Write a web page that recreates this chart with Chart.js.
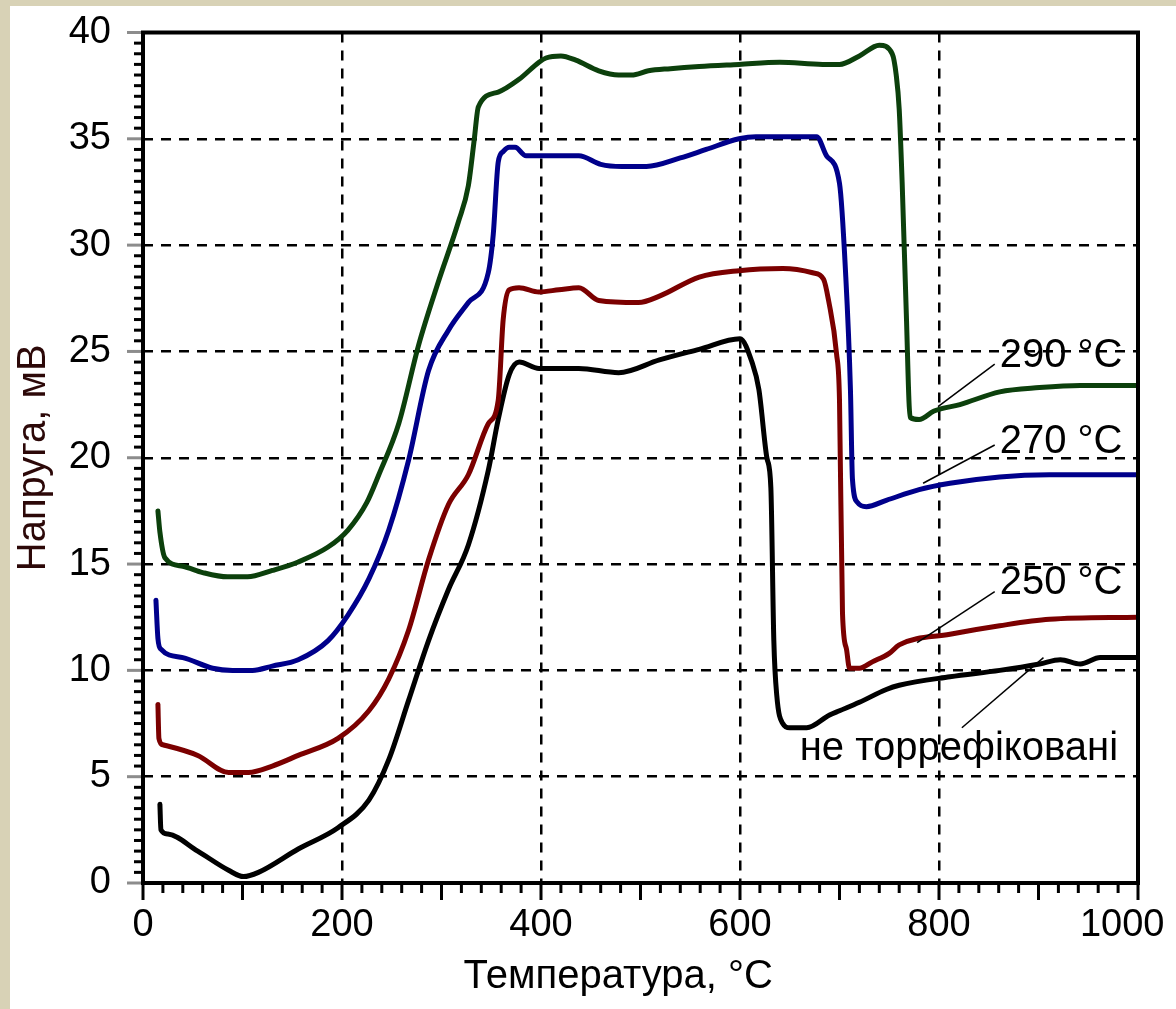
<!DOCTYPE html>
<html>
<head>
<meta charset="utf-8">
<script src="https://cdn.jsdelivr.net/npm/chart.js@4.4.1/dist/chart.umd.min.js"></script>
<style>
  html, body { margin: 0; padding: 0; width: 1176px; height: 1009px; overflow: hidden; background: #d8d2b6; }
  #wrap { position: absolute; left: 10px; top: 6px; width: 1166px; height: 1003px; background: #fff; }
</style>
</head>
<body>
<div id="wrap"><canvas id="chart" width="1166" height="1003"></canvas></div>
<script>
(() => {
  /* ========== Data ========== */
  // 290 °C
  const temp290 = [15, 17, 22, 40, 60, 85, 105, 130, 156, 186, 206, 225, 237, 257, 277, 297, 317, 327, 333, 337, 357, 378, 398, 405, 420, 435, 458, 478, 491, 508, 530, 559, 599, 640, 683, 700, 720, 740, 753, 757, 760, 763, 767, 771, 780, 795, 821, 861, 901, 942, 1000];
  const volt290 = [17.5, 16.5, 15.3, 14.9, 14.6, 14.4, 14.4, 14.7, 15.1, 15.8, 16.6, 17.9, 19.2, 21.6, 25.3, 28.3, 31.1, 32.8, 35.0, 36.5, 37.2, 37.8, 38.6, 38.8, 38.9, 38.7, 38.2, 38.0, 38.0, 38.2, 38.3, 38.4, 38.5, 38.6, 38.5, 38.5, 38.9, 39.4, 39.0, 38.0, 36.4, 32.9, 27.0, 21.9, 21.8, 22.2, 22.5, 23.1, 23.3, 23.4, 23.4];
  // 270 °C
  const temp270 = [13, 15, 18, 40, 70, 90, 110, 130, 156, 186, 206, 227, 247, 267, 287, 307, 327, 347, 352, 357, 362, 368, 374, 385, 410, 438, 460, 481, 506, 540, 566, 599, 616, 650, 677, 687, 700, 706, 711, 713, 718, 727, 747, 780, 811, 861, 911, 950, 1000];
  const volt270 = [13.3, 11.5, 11.0, 10.6, 10.1, 10.0, 10.0, 10.2, 10.5, 11.4, 12.6, 14.3, 16.6, 19.9, 24.1, 26.0, 27.3, 28.7, 30.5, 33.9, 34.4, 34.6, 34.6, 34.2, 34.2, 34.2, 33.8, 33.7, 33.7, 34.1, 34.5, 35.0, 35.1, 35.1, 35.1, 34.2, 32.9, 28.8, 23.2, 19.0, 17.9, 17.7, 18.0, 18.5, 18.8, 19.1, 19.2, 19.2, 19.2];
  // 250 °C
  const temp250 = [15, 16, 20, 55, 86, 106, 130, 156, 196, 227, 247, 267, 287, 307, 327, 347, 357, 362, 368, 378, 398, 418, 438, 458, 498, 519, 559, 599, 643, 673, 684, 689, 697, 700, 703, 707, 710, 720, 733, 750, 760, 811, 861, 911, 1000];
  const volt250 = [8.4, 6.8, 6.5, 6.0, 5.2, 5.2, 5.5, 6.0, 6.8, 8.1, 9.6, 11.9, 15.2, 17.8, 19.2, 21.6, 22.7, 26.5, 27.9, 28.0, 27.8, 27.9, 28.0, 27.4, 27.3, 27.6, 28.5, 28.8, 28.9, 28.7, 28.4, 27.4, 24.9, 22.7, 12.7, 11.0, 10.1, 10.1, 10.4, 10.8, 11.2, 11.7, 12.1, 12.4, 12.5];
  // не торрефіковані
  const tempRaw = [17, 18, 25, 55, 86, 101, 116, 156, 196, 227, 247, 267, 287, 307, 327, 347, 357, 368, 378, 398, 438, 478, 519, 559, 600, 612, 619, 627, 631, 634, 637, 643, 650, 667, 690, 700, 720, 747, 760, 811, 861, 901, 922, 942, 962, 1000];
  const voltRaw = [3.7, 2.5, 2.3, 1.5, 0.6, 0.3, 0.5, 1.6, 2.6, 3.9, 5.8, 8.6, 11.4, 13.8, 15.9, 19.4, 21.8, 23.9, 24.5, 24.2, 24.2, 24.0, 24.6, 25.1, 25.6, 24.5, 23.2, 20.0, 18.6, 11.4, 8.8, 7.5, 7.3, 7.3, 7.9, 8.1, 8.5, 9.1, 9.3, 9.7, 10.0, 10.3, 10.5, 10.3, 10.6, 10.6];

  const seriesColors = ["#0c400c", "#00008b", "#7b0000", "#000000"];

  // callouts (data units)
  const labelText  = ["290 °C", "270 °C", "250 °C", "не торрефіковані"];
  const labelX     = [861, 861, 861, 820];
  const labelY     = [24.8, 20.75, 14.1, 6.3];
  const labelAlign = ["left", "left", "left", "center"];
  const leaderX    = [[799, 856], [784, 856], [778, 856], [823, 905]];
  const leaderY    = [[22.4, 24.4], [18.8, 20.6], [11.3, 13.7], [7.3, 10.6]];

  // axes
  const xMin = 0, xMax = 1000, xStep = 200, xMinor = 20;
  const yMin = 0, yMax = 40, yStep = 5, yMinor = 0.5;

  const FONT = "'Liberation Sans', Arial, sans-serif";

  /* ========== Helpers ========== */
  const pts = (xs, ys) => xs.map((x, i) => ({ x: x, y: ys[i] }));

  const curve = (xs, ys, color) => ({
    data: pts(xs, ys),
    borderColor: color,
    borderWidth: 5,
    pointRadius: 0,
    cubicInterpolationMode: "monotone",
    borderJoinStyle: "round",
    borderCapStyle: "round",
    fill: false
  });

  const leaders = leaderX.map((xs, i) => ({
    data: pts(xs, leaderY[i]),
    borderColor: "#000",
    borderWidth: 1.5,
    pointRadius: 0,
    fill: false
  }));

  // frame, minor ticks and callout texts
  const decor = {
    id: "decor",
    afterDatasetsDraw(chart) {
      const { ctx, chartArea: a, scales: { x, y } } = chart;
      ctx.save();
      // x ticks below the axis
      ctx.fillStyle = "#000";
      for (let v = xMin; v <= xMax; v += xMinor) {
        const px = x.getPixelForValue(v);
        ctx.fillRect(px - 1.5, a.bottom, 3, v % 100 === 0 ? 17 : 10);
      }
      // y ticks left of the axis
      for (let k = 0; k <= (yMax - yMin) / yMinor; k++) {
        const v = yMin + k * yMinor;
        const py = y.getPixelForValue(v);
        if (k % 10 === 0) { ctx.fillStyle = "#8c8c8c"; ctx.fillRect(a.left - 16, py - 1.5, 14, 3); }
        else { ctx.fillStyle = "#000"; ctx.fillRect(a.left - 9, py - 1.5, 9, 3); }
      }
      // frame
      ctx.strokeStyle = "#000";
      ctx.lineWidth = 4;
      ctx.strokeRect(a.left, a.top, a.right - a.left, a.bottom - a.top);
      // callouts
      ctx.fillStyle = "#000";
      ctx.font = "40px " + FONT;
      ctx.textBaseline = "middle";
      labelText.forEach((t, i) => {
        ctx.textAlign = labelAlign[i];
        ctx.fillText(t, x.getPixelForValue(labelX[i]), y.getPixelForValue(labelY[i]));
      });
      ctx.restore();
    }
  };

  /* ========== Chart ========== */
  new Chart(document.getElementById("chart"), {
    type: "line",
    data: {
      datasets: [
        ...leaders,
        curve(temp290, volt290, seriesColors[0]),
        curve(temp270, volt270, seriesColors[1]),
        curve(temp250, volt250, seriesColors[2]),
        curve(tempRaw, voltRaw, seriesColors[3])
      ]
    },
    plugins: [decor],
    options: {
      responsive: false,
      animation: false,
      devicePixelRatio: 1,
      layout: { padding: { left: 0, right: 38, top: 26.5, bottom: 0 } },
      plugins: { legend: { display: false }, tooltip: { enabled: false } },
      scales: {
        x: {
          type: "linear",
          min: xMin, max: xMax,
          afterFit: (s) => { s.height = 126; s.paddingLeft = 0; s.paddingRight = 0; },
          ticks: {
            stepSize: xStep,
            maxRotation: 0,
            padding: 20,
            color: "#000",
            font: { family: FONT, size: 38 },
            callback: (v) => v === xMax ? v + "   " : String(v)
          },
          grid: {
            drawTicks: false,
            lineWidth: 2.5,
            color: (c) => (c.tick && c.tick.value > xMin && c.tick.value < xMax) ? "#000" : "rgba(0,0,0,0)"
          },
          border: { display: false, dash: [10, 8] },
          title: {
            display: true,
            text: "Температура, °C    ",
            color: "#000",
            font: { family: FONT, size: 40 },
            padding: { top: 0, bottom: 8 }
          }
        },
        y: {
          min: yMin, max: yMax,
          afterFit: (s) => { s.width = 133; s.paddingTop = 0; s.paddingBottom = 0; },
          ticks: {
            stepSize: yStep,
            padding: 32,
            color: "#000",
            font: { family: FONT, size: 38 }
          },
          grid: {
            drawTicks: false,
            lineWidth: 2.5,
            color: (c) => (c.tick && c.tick.value > yMin && c.tick.value < yMax) ? "#000" : "rgba(0,0,0,0)"
          },
          border: { display: false, dash: [10, 8] },
          title: {
            display: true,
            text: "Напруга, мВ",
            color: "#2c0808",
            font: { family: FONT, size: 40 },
            padding: { top: 0, bottom: 0 }
          }
        }
      }
    }
  });
})();
</script>
</body>
</html>
